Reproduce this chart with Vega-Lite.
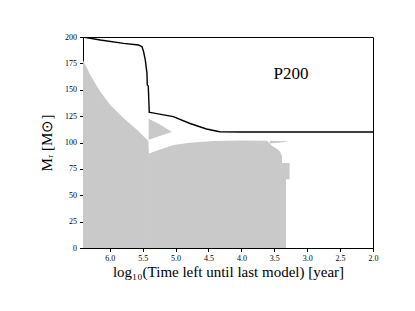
{
  "$schema": "https://vega.github.io/schema/vega-lite/v6.json",
  "width": 290,
  "height": 211,
  "autosize": "none",
  "padding": {"left": 83, "top": 37, "right": 42, "bottom": 63},
  "background": "white",
  "config": {
    "view": {"stroke": "black", "strokeWidth": 1},
    "font": "Liberation Serif",
    "axis": {
      "grid": false,
      "domainColor": "black",
      "tickColor": "black",
      "tickSize": 3.5,
      "labelFont": "Liberation Serif",
      "labelFontSize": 8,
      "labelColor": "black",
      "labelOverlap": false,
      "titleFont": "Liberation Serif",
      "titleFontSize": 15,
      "titleFontWeight": "normal",
      "titleColor": "black"
    }
  },
  "datasets": {
    "zones": [
      {"zone": "A", "t": 6.407, "m": 178, "m2": 0},
      {"zone": "A", "t": 6.296, "m": 164, "m2": 0},
      {"zone": "A", "t": 6.144, "m": 148, "m2": 0},
      {"zone": "A", "t": 5.992, "m": 135.5, "m2": 0},
      {"zone": "A", "t": 5.79, "m": 123, "m2": 0},
      {"zone": "A", "t": 5.587, "m": 112, "m2": 0},
      {"zone": "A", "t": 5.415, "m": 101.5, "m2": 0},
      {"zone": "A", "t": 5.405, "m": 89, "m2": 0},
      {"zone": "B", "t": 5.415, "m": 89, "m2": 0},
      {"zone": "B", "t": 5.335, "m": 91.3, "m2": 0},
      {"zone": "B", "t": 5.03, "m": 97.6, "m2": 0},
      {"zone": "B", "t": 4.78, "m": 99.8, "m2": 0},
      {"zone": "B", "t": 4.42, "m": 101.4, "m2": 0},
      {"zone": "B", "t": 4.02, "m": 102, "m2": 0},
      {"zone": "B", "t": 3.61, "m": 101.6, "m2": 0},
      {"zone": "B", "t": 3.57, "m": 99.0, "m2": 0},
      {"zone": "B", "t": 3.53, "m": 96.7, "m2": 0},
      {"zone": "B", "t": 3.455, "m": 93.8, "m2": 0},
      {"zone": "B", "t": 3.41, "m": 91, "m2": 0},
      {"zone": "B", "t": 3.383, "m": 87, "m2": 0},
      {"zone": "B", "t": 3.383, "m": 80.6, "m2": 0},
      {"zone": "B", "t": 3.322, "m": 80.6, "m2": 0},
      {"zone": "C", "t": 3.57, "m": 101.6, "m2": 99.0},
      {"zone": "C", "t": 3.30, "m": 101.3, "m2": 100.8},
      {"zone": "D", "t": 3.325, "m": 80.6, "m2": 65.1},
      {"zone": "D", "t": 3.267, "m": 80.6, "m2": 65.1},
      {"zone": "E", "t": 5.41, "m": 122.5, "m2": 102.5},
      {"zone": "E", "t": 5.25, "m": 117.5, "m2": 106},
      {"zone": "E", "t": 5.055, "m": 110, "m2": 110}
    ],
    "mass": [
      {"t": 6.407, "m": 200},
      {"t": 6.144, "m": 197.2},
      {"t": 5.79, "m": 194},
      {"t": 5.562, "m": 192.4},
      {"t": 5.51, "m": 190.8},
      {"t": 5.486, "m": 186},
      {"t": 5.46, "m": 178},
      {"t": 5.435, "m": 165.6},
      {"t": 5.43, "m": 154.5},
      {"t": 5.415, "m": 153.5},
      {"t": 5.40, "m": 128.6},
      {"t": 5.39, "m": 128.6},
      {"t": 5.035, "m": 124.5},
      {"t": 4.78, "m": 118},
      {"t": 4.53, "m": 112.8},
      {"t": 4.33, "m": 110.2},
      {"t": 4.0, "m": 110},
      {"t": 2.0, "m": 110}
    ],
    "label": [
      {"t": 3.245, "m": 165, "text": "P200"}
    ]
  },
  "encoding": {
    "x": {
      "field": "t", "type": "quantitative",
      "scale": {"domain": [6.407, 2.0], "nice": false, "zero": false},
      "axis": {
        "values": [6.0, 5.5, 5.0, 4.5, 4.0, 3.5, 3.0, 2.5, 2.0],
        "format": ".1f",
        "labelOverlap": false,
        "labelFlush": false,
        "labelBound": false,
        "labelPadding": 3,
        "titlePadding": 2,
        "title": "log₁₀(Time left until last model) [year]"
      }
    },
    "y": {
      "field": "m", "type": "quantitative",
      "scale": {"domain": [0, 200], "nice": false},
      "axis": {
        "values": [0, 25, 50, 75, 100, 125, 150, 175, 200],
        "labelOverlap": false,
        "labelFlush": false,
        "labelBound": false,
        "labelPadding": 3,
        "titlePadding": 10,
        "title": "Mᵣ [M⊙]"
      }
    }
  },
  "layer": [
    {
      "data": {"name": "zones"},
      "mark": {"type": "area", "color": "#c9c9c9", "opacity": 1, "clip": true},
      "encoding": {
        "y2": {"field": "m2"},
        "detail": {"field": "zone"},
        "order": {"value": null}
      }
    },
    {
      "data": {"name": "mass"},
      "mark": {"type": "line", "color": "black", "strokeWidth": 1.4, "clip": true},
      "encoding": {
        "order": {"value": null}
      }
    },
    {
      "data": {"name": "label"},
      "mark": {"type": "text", "font": "Liberation Serif", "fontSize": 17, "color": "black", "align": "center", "baseline": "middle"},
      "encoding": {
        "text": {"field": "text"}
      }
    }
  ]
}
